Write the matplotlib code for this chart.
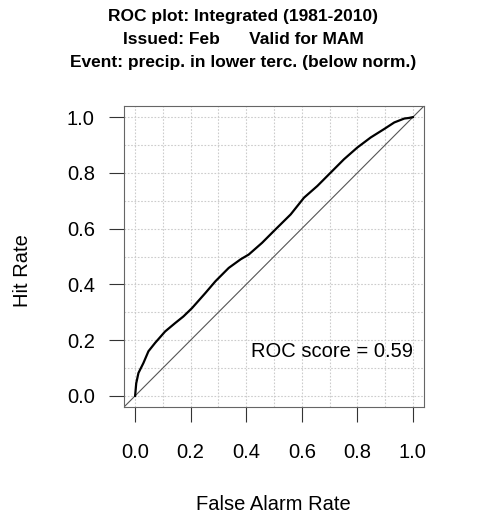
import matplotlib
matplotlib.use("Agg")
from matplotlib import pyplot as plt
import numpy as np

plt.rcParams['font.family'] = ['Liberation Sans', 'DejaVu Sans']

# ROC curve
far = [0, 0.004, 0.012, 0.03, 0.048, 0.072, 0.108, 0.144, 0.174, 0.205, 0.253,
       0.289, 0.337, 0.38, 0.409, 0.457, 0.499, 0.56, 0.608, 0.656, 0.704,
       0.752, 0.80, 0.848, 0.896, 0.933, 0.969, 0.985, 1.0]
hit = [0, 0.045, 0.082, 0.118, 0.16, 0.19, 0.231, 0.261, 0.285, 0.315, 0.369,
       0.411, 0.459, 0.49, 0.507, 0.549, 0.591, 0.651, 0.711, 0.753, 0.801,
       0.849, 0.891, 0.927, 0.957, 0.981, 0.995, 0.997, 1.0]
roc_score = 0.59
ticks = [0.0, 0.2, 0.4, 0.6, 0.8, 1.0]
tick_labels = ["0.0", "0.2", "0.4", "0.6", "0.8", "1.0"]
title_lines = ["ROC plot: Integrated (1981-2010)",
               "Issued: Feb      Valid for MAM",
               "Event: precip. in lower terc. (below norm.)"]

W, H = 481, 523
fig = plt.figure(figsize=(W/100, H/100), dpi=100)
ax = fig.add_axes([124/W, 1 - 407/H, 300/W, 301/H])

ax.set_xlim(-0.04, 1.04)
ax.set_ylim(-0.04, 1.04)

# dotted grid every 0.1
grid = np.arange(0, 1.01, 0.1)
for g in grid:
    ax.axvline(g, color='#cccccc', lw=0.8, ls=(0, (1.5, 1.5)), zorder=0)
    ax.axhline(g, color='#cccccc', lw=0.8, ls=(0, (1.5, 1.5)), zorder=0)

ax.axline((0, 0), slope=1, color='#555555', lw=0.8, zorder=1)
ax.plot(far, hit, color='black', lw=1.6, zorder=2)

ax.text(1.0, 0.158, f"ROC score = {roc_score:.2f}", ha='right', va='center',
        fontsize=14.5)

ax.set_xticks(ticks)
ax.set_xticklabels(tick_labels)
ax.set_yticks(ticks)
ax.set_yticklabels(tick_labels)
ax.tick_params(axis='both', direction='out', length=11, width=0.8,
               color='#333333', labelsize=14.5)
ax.tick_params(axis='x', pad=15)
ax.tick_params(axis='y', pad=10)
for s in ax.spines.values():
    s.set_color('#666666')
    s.set_linewidth(0.8)

fig.text(273/W, 1 - 504/H, "False Alarm Rate", ha='center', va='center',
         fontsize=14.5)
fig.text(22/W, 1 - 271/H, "Hit Rate", ha='center', va='center',
         rotation=90, fontsize=14.5)

for i, line in enumerate(title_lines):
    fig.text(243/W, 1 - (16 + 23.5*i)/H, line, ha='center', va='center',
             fontsize=12.5, fontweight='bold')

fig.savefig("out.png", dpi=100)
